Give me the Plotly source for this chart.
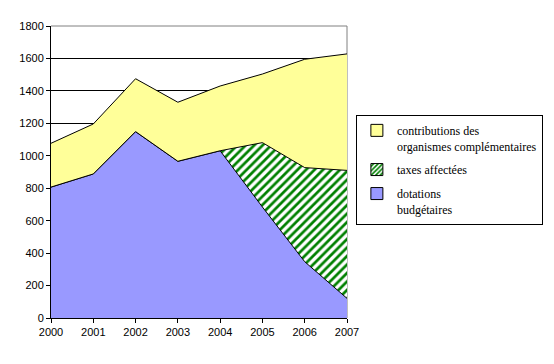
import plotly.graph_objects as go

years = [2000, 2001, 2002, 2003, 2004, 2005, 2006, 2007]
dotations = [807, 888, 1149, 966, 1031, 684, 347, 121]
taxes = [0, 0, 0, 0, 0, 397, 580, 789]
contributions = [270, 308, 326, 364, 399, 423, 668, 718]

names = ["dotations<br>budgétaires", "taxes affectées", "contributions des<br>organismes complémentaires"]
fills = ["#9999FF", "white", "#FFFF99"]
series = [dotations, taxes, contributions]
stripe = dict(shape="/", fgcolor="#008000", bgcolor="white", size=6, solidity=0.45,
              fillmode="replace", fgopacity=1)

fig = go.Figure()
for i, (nm, vals, fc) in enumerate(zip(names, series, fills)):
    kw = {}
    if i == 1:
        kw["fillpattern"] = stripe
    fig.add_trace(go.Scatter(x=years, y=vals, name=nm, stackgroup="s", mode="lines",
                             line=dict(color="black", width=1), fillcolor=fc,
                             showlegend=False, hoverinfo="skip", **kw))

# legend proxies (square swatches), top of stack listed first
for i in reversed(range(len(names))):
    mk = dict(color=fills[i], line=dict(color="black", width=1))
    if i == 1:
        mk["pattern"] = dict(shape="/", fgcolor="#008000", bgcolor="white", size=4,
                             solidity=0.5, fillmode="replace")
    fig.add_trace(go.Bar(x=[None], y=[None], name=names[i], marker=mk, showlegend=True,
                         legendgroup="g%d" % i))

fig.update_layout(
    width=554, height=364,
    margin=dict(l=51, r=207, t=26, b=46, autoexpand=False),
    paper_bgcolor="white", plot_bgcolor="white",
    font=dict(family="Liberation Sans", size=11, color="black"),
    showlegend=True,
    legend=dict(x=1.03, y=0.695, xanchor="left", yanchor="top",
                traceorder="grouped", bordercolor="black", borderwidth=1,
                font=dict(family="Liberation Serif", size=12), tracegroupgap=5,
                itemwidth=30, valign="top"),
    xaxis=dict(range=[2000, 2007], tickvals=years, ticks="outside", ticklen=4,
               tickcolor="black", showline=True, linecolor="black", linewidth=1,
               showgrid=False, zeroline=False, fixedrange=True),
    yaxis=dict(range=[0, 1800], dtick=200, ticks="outside", ticklen=4,
               tickcolor="black", showline=True, linecolor="black", linewidth=1,
               showgrid=True, gridcolor="black", gridwidth=1, zeroline=False,
               fixedrange=True),
    shapes=[
        dict(type="line", xref="paper", yref="paper", x0=0, x1=1, y0=1, y1=1,
             line=dict(color="#808080", width=1), layer="below"),
        dict(type="line", xref="paper", yref="paper", x0=1, x1=1, y0=0, y1=1,
             line=dict(color="#808080", width=1), layer="below"),
    ],
)

fig.write_html("out.html", config={"displayModeBar": False},
               post_script="document.body.style.margin='0';")
